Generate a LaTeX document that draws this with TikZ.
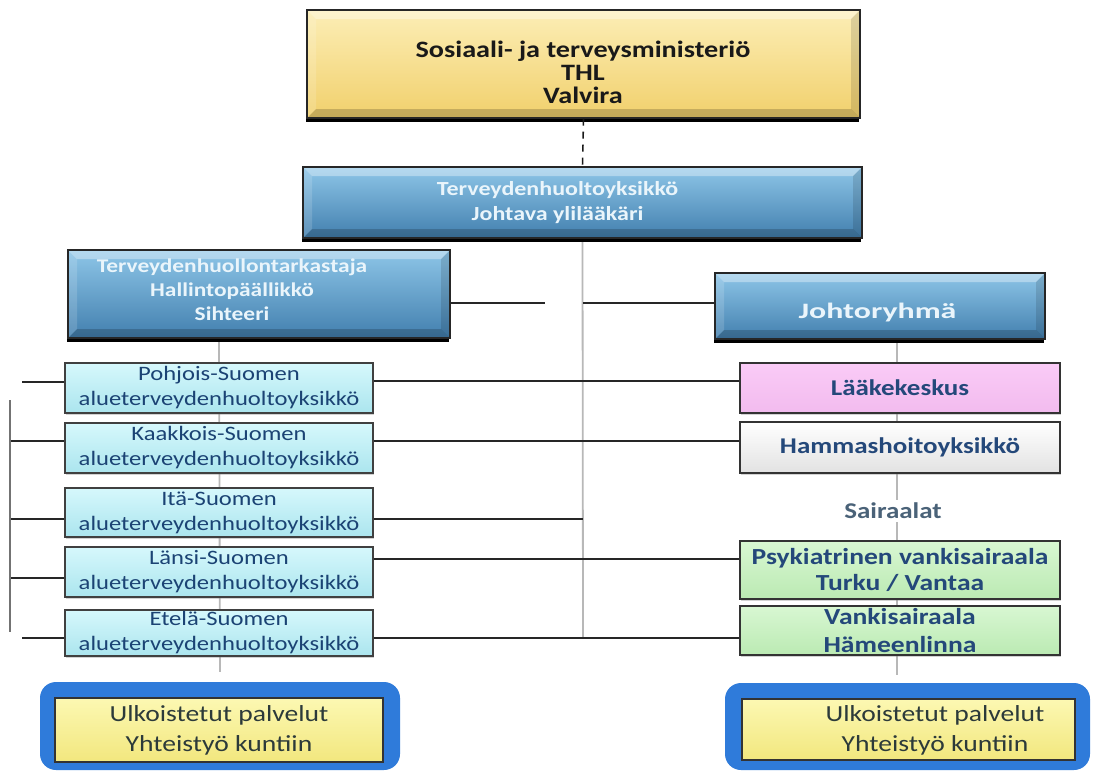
\documentclass[tikz,border=0pt]{standalone}
\usepackage{fontspec}
\setmainfont{Carlito}[FakeStretch=1.2]
\newfontfamily\widefont{Carlito}[FakeStretch=1.45]
\usetikzlibrary{shadows,backgrounds,calc}
\definecolor{bltop}{HTML}{8EC6E8}
\definecolor{blmid}{HTML}{5A97C4}
\definecolor{blbot}{HTML}{427FAE}
\definecolor{bltext}{HTML}{EAF5FB}
\definecolor{ytop}{HTML}{FCEEB6}
\definecolor{ymid}{HTML}{F8DE86}
\definecolor{ybot}{HTML}{F1D06C}
\definecolor{cytop}{HTML}{D6F8FC}
\definecolor{cybot}{HTML}{ABE5EE}
\definecolor{cytext}{HTML}{1B4374}
\definecolor{pinkf}{HTML}{FACBF7}
\definecolor{pinkb}{HTML}{F2BBEE}
\definecolor{whbot}{HTML}{E2E2E2}
\definecolor{grtop}{HTML}{D8F7D2}
\definecolor{grbot}{HTML}{BBEAB3}
\definecolor{rtext}{HTML}{24487A}
\definecolor{outerblue}{HTML}{2F7BDA}
\definecolor{intop}{HTML}{FCF8B2}
\definecolor{inbot}{HTML}{F2E77E}
\definecolor{ulktext}{HTML}{2C3A3A}
\definecolor{sairtext}{HTML}{4A6278}
\tikzset{
  bevel/.style={path picture={
    \fill[white,opacity=0.35] (path picture bounding box.north west) -- (path picture bounding box.north east)
      -- ([xshift=-9pt,yshift=-9pt]path picture bounding box.north east) -- ([xshift=9pt,yshift=-9pt]path picture bounding box.north west) -- cycle;
    \fill[white,opacity=0.15] (path picture bounding box.north west) -- ([xshift=9pt,yshift=-9pt]path picture bounding box.north west)
      -- ([xshift=9pt,yshift=9pt]path picture bounding box.south west) -- (path picture bounding box.south west) -- cycle;
    \fill[black,opacity=0.12] (path picture bounding box.north east) -- ([xshift=-9pt,yshift=-9pt]path picture bounding box.north east)
      -- ([xshift=-9pt,yshift=9pt]path picture bounding box.south east) -- (path picture bounding box.south east) -- cycle;
    \fill[black,opacity=0.18] (path picture bounding box.south west) -- ([xshift=9pt,yshift=9pt]path picture bounding box.south west)
      -- ([xshift=-9pt,yshift=9pt]path picture bounding box.south east) -- (path picture bounding box.south east) -- cycle;
  }},
  ybox/.style={bevel, draw=black!85, line width=1.4pt, top color=ytop, middle color=ymid, bottom color=ybot,
    drop shadow={shadow xshift=-1pt, shadow yshift=-3.5pt, opacity=1, fill=black}, inner sep=0pt},
  bbox/.style={bevel, draw=black!85, line width=1.4pt, top color=bltop, middle color=blmid, bottom color=blbot,
    drop shadow={shadow xshift=-1pt, shadow yshift=-3.5pt, opacity=1, fill=black}, inner sep=0pt},
  btext/.style={text=bltext, align=center, inner sep=0pt},
  cbox/.style={draw=black!75, line width=1.2pt, top color=cytop, bottom color=cybot, text=cytext, align=center,
    inner sep=0pt, minimum width=308pt, font=\fontsize{20.5}{25}\selectfont,
    drop shadow={shadow xshift=1pt, shadow yshift=-1.5pt, opacity=0.35}},
  rbox/.style={draw=black!80, line width=1.3pt, text=rtext, align=center, inner sep=0pt, minimum width=320pt,
    font=\bfseries\fontsize{22.5}{26}\selectfont,
    drop shadow={shadow xshift=1pt, shadow yshift=-1.5pt, opacity=0.35}},
  obox/.style={fill=outerblue, rounded corners=16pt, inner sep=0pt},
  ibox/.style={draw=black!80, line width=1.5pt, top color=intop, bottom color=inbot, text=ulktext, align=center,
    inner sep=0pt, font=\fontsize{23}{30}\selectfont},
  conn/.style={draw=black!85, line width=1.3pt},
  gline/.style={draw=black!28, line width=1.8pt},
}
\begin{document}
\begin{tikzpicture}[x=1pt,y=-1pt]
\useasboundingbox (0,0) rectangle (1099,774);
\begin{pgfonlayer}{background}
\fill[white] (0,0) rectangle (1099,774);
\end{pgfonlayer}

% top boxes
\node[ybox, minimum width=553pt, minimum height=108pt] (min) at (583.5,64) {};
\node[align=center, inner sep=0pt, text=black!90, font=\bfseries\fontsize{23.5}{23}\selectfont] (minT) at (583,72)
  {Sosiaali- ja terveysministeriö\\THL\\Valvira};

\node[bbox, minimum width=559pt, minimum height=71pt] (thy) at (582.5,202.5) {};
\node[btext, font=\bfseries\fontsize{20}{25}\selectfont] (thyT) at (557.5,202.5)
  {Terveydenhuoltoyksikkö\\Johtava ylilääkäri};

\node[bbox, minimum width=382pt, minimum height=88pt] (tark) at (259,294) {};
\node[btext, font=\bfseries\fontsize{19.5}{24}\selectfont] (tarkT) at (232,290)
  {Terveydenhuollontarkastaja\\Hallintopäällikkö\\Sihteeri};

\node[bbox, minimum width=330pt, minimum height=66pt] (johto) at (880,306) {};
\node[btext, font=\widefont\bfseries\fontsize{22}{26}\selectfont] (johtoT) at (877.5,313) {Johtoryhmä};

% left column
\node[cbox, minimum height=50pt] (pohj) at (219,388) {Pohjois-Suomen\\alueterveydenhuoltoyksikkö};
\node[cbox, minimum height=50pt] (kaak) at (219,448) {Kaakkois-Suomen\\alueterveydenhuoltoyksikkö};
\node[cbox, minimum height=49pt] (ita) at (219,512.5) {Itä-Suomen\\alueterveydenhuoltoyksikkö};
\node[cbox, minimum height=50pt] (lansi) at (219,572) {Länsi-Suomen\\alueterveydenhuoltoyksikkö};
\node[cbox, minimum height=46pt] (etela) at (219,633) {Etelä-Suomen\\alueterveydenhuoltoyksikkö};

% right column
\node[rbox, minimum height=50pt, top color=pinkf, bottom color=pinkb] (laake) at (900,388) {Lääkekeskus};
\node[rbox, minimum height=51pt, top color=white, bottom color=whbot] (hammas) at (900,447.5) {Hammashoitoyksikkö};
\node[fill=white, inner sep=3pt, text=sairtext, font=\bfseries\fontsize{22.5}{24}\selectfont] (sair) at (893,511) {Sairaalat};
\node[rbox, minimum height=58pt, top color=grtop, bottom color=grbot, font=\bfseries\fontsize{23}{26}\selectfont] (psyk) at (900,570)
  {Psykiatrinen vankisairaala\\Turku / Vantaa};
\node[rbox, minimum height=49pt, top color=grtop, bottom color=grbot, font=\bfseries\fontsize{23}{28}\selectfont] (vanki) at (900,630.5)
  {Vankisairaala\\Hämeenlinna};

% bottom boxes
\node[obox, minimum width=360pt, minimum height=88pt] (ulkL) at (220,726) {};
\node[ibox, minimum width=328pt, minimum height=64pt] (ulkLi) at (219,730) {Ulkoistetut palvelut\\Yhteistyö kuntiin};
\node[obox, minimum width=365pt, minimum height=87pt] (ulkR) at (907.5,726.5) {};
\node[ibox, minimum width=333pt, minimum height=61pt] (ulkRi) at (908.5,729.5) {};
\node[align=center, inner sep=0pt, text=ulktext, font=\fontsize{23}{30}\selectfont] (ulkRT) at (935,730)
  {Ulkoistetut palvelut\\Yhteistyö kuntiin};

% background gray lines
\begin{pgfonlayer}{background}
\coordinate (cvEnd) at (583,637);
\draw[gline] (thy.south) -- (cvEnd);
\draw[gline] (tark.south -| pohj.north) -- ([yshift=10pt]ulkL.north);
\draw[gline] ([xshift=17pt]johto.south) -- ([xshift=-10.5pt,yshift=8pt]ulkR.north);
\end{pgfonlayer}

% dashed link
\draw[black!90, line width=1.6pt, dash pattern=on 7pt off 6pt] (min.south) -- (thy.north);

% connectors
\coordinate (gapL) at (545,303);
\coordinate (gapR) at (583,303);
\draw[conn] ([yshift=-9pt]tark.east) -- (gapL);
\draw[conn] (gapR) -- ([yshift=3pt]johto.west);
\draw[conn] ([yshift=7pt]pohj.east) -- ([yshift=7pt]laake.west);
\draw[conn] ([yshift=7pt]kaak.east) -- ([yshift=6.5pt]hammas.west);
\draw[conn] ([yshift=-6.5pt]ita.east) -- ([yshift=-6.5pt]ita.east -| cvEnd);
\draw[conn] ([yshift=13pt]lansi.east) -- ([yshift=11pt]psyk.west);
\draw[conn] ([yshift=-5pt]etela.east) -- ([yshift=-7.5pt]vanki.west);

% left stubs and vertical
\coordinate (lvTop) at (10,400);
\coordinate (lvBot) at (10,632);
\draw[black!55, line width=1.2pt] (lvTop) -- (lvBot);
\coordinate (s1) at (22,382);
\coordinate (s2) at (11,441);
\coordinate (s3) at (11,519);
\coordinate (s4) at (11,578);
\coordinate (s5) at (22,638);
\draw[conn] (s1) -- ([yshift=6pt]pohj.west);
\draw[conn] (s2) -- ([yshift=7pt]kaak.west);
\draw[conn] (s3) -- ([yshift=-6.5pt]ita.west);
\draw[conn] (s4) -- ([yshift=-6pt]lansi.west);
\draw[conn] (s5) -- ([yshift=-5pt]etela.west);
\end{tikzpicture}
\end{document}
